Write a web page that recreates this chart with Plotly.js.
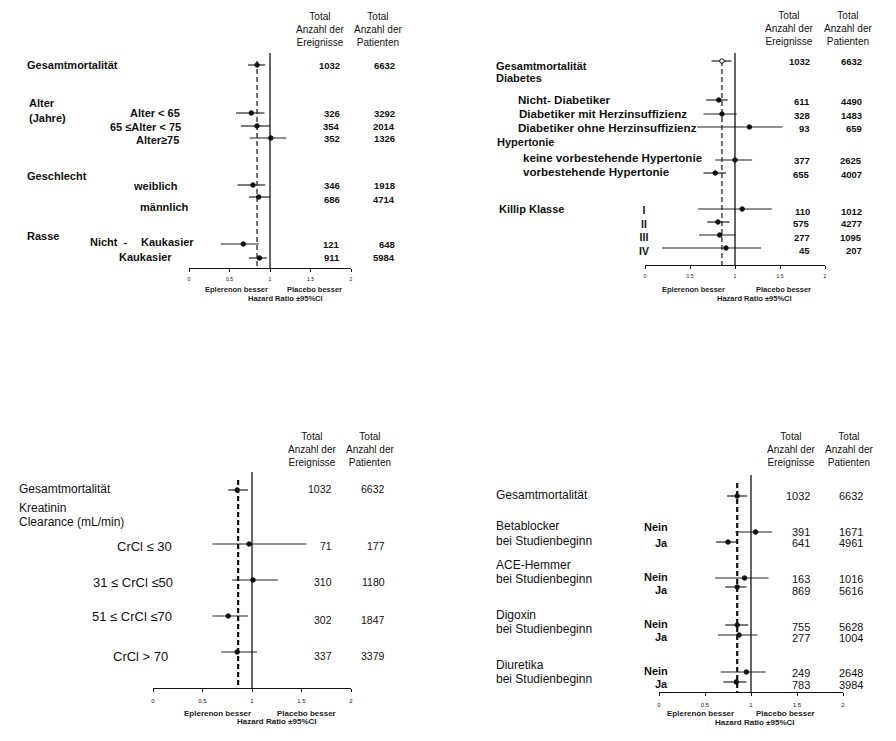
<!DOCTYPE html>
<html>
<head>
<meta charset="utf-8">
<script src="https://cdn.plot.ly/plotly-3.0.1.min.js"></script>
<style>html,body{margin:0;padding:0;background:#fff;}#chart{width:896px;height:741px;}</style>
</head>
<body>
<div id="chart"></div>
<script>
// ---------------- DATA ----------------
// Panel 1: Alter, Geschlecht, Rasse
const p1HR       = [0.84, 0.77, 0.84, 1.01, 0.79, 0.86, 0.67, 0.87];
const p1Lo       = [0.73, 0.58, 0.64, 0.75, 0.60, 0.74, 0.39, 0.74];
const p1Hi       = [0.94, 0.93, 1.00, 1.20, 0.94, 1.00, 0.86, 0.96];
const p1Events   = [1032, 326, 354, 352, 346, 686, 121, 911];
const p1Patients = [6632, 3292, 2014, 1326, 1918, 4714, 648, 5984];

// Panel 2: Diabetes, Hypertonie, Killip Klasse
const p2HR       = [0.855, 0.82, 0.855, 1.16, 1.00, 0.78, 1.08, 0.81, 0.83, 0.90];
const p2Lo       = [0.74, 0.68, 0.65, 0.58, 0.78, 0.65, 0.59, 0.69, 0.60, 0.19];
const p2Hi       = [0.96, 0.92, 1.02, 1.53, 1.19, 0.90, 1.41, 0.94, 1.01, 1.29];
const p2Events   = [1032, 611, 328, 93, 377, 655, 110, 575, 277, 45];
const p2Patients = [6632, 4490, 1483, 659, 2625, 4007, 1012, 4277, 1095, 207];
const killipClasses = ['I', 'II', 'III', 'IV'];

// Panel 3: Kreatinin Clearance
const p3HR       = [0.85, 0.97, 1.01, 0.76, 0.85];
const p3Lo       = [0.76, 0.60, 0.80, 0.60, 0.69];
const p3Hi       = [0.96, 1.55, 1.26, 0.96, 1.05];
const p3Events   = [1032, 71, 310, 302, 337];
const p3Patients = [6632, 177, 1180, 1847, 3379];

// Panel 4: Begleitmedikation bei Studienbeginn
const p4HR       = [0.85, 1.05, 0.75, 0.93, 0.85, 0.85, 0.87, 0.95, 0.84];
const p4Lo       = [0.74, 0.83, 0.62, 0.61, 0.72, 0.72, 0.64, 0.67, 0.70];
const p4Hi       = [0.96, 1.23, 0.85, 1.19, 0.95, 0.97, 1.07, 1.16, 0.95];
const p4Events   = [1032, 391, 641, 163, 869, 755, 277, 249, 783];
const p4Patients = [6632, 1671, 4961, 1016, 5616, 5628, 1004, 2648, 3984];

const overallHR = [0.84, 0.855, 0.86, 0.85];
const tickVals = [0, 0.5, 1, 1.5, 2];
const tickText = ['0', '0.5', '1', '1.5', '2'];
const headEvents = 'Total<br>Anzahl der<br>Ereignisse';
const headPatients = 'Total<br>Anzahl der<br>Patienten';
const capLeft = 'Eplerenon besser', capRight = 'Placebo besser', capAxis = 'Hazard Ratio ±95%CI';

// ---------------- LAYOUT (pixel geometry) ----------------
const W = 896, H = 741;
const FONT = 'Liberation Sans, Arial, sans-serif';
const panels = [
  { x0:189, x2:351, top:53, bottom:268, rows:[65,113,126,138,185,197,244,258],
    numY:[65,113,126,138,186,199,244,258], evX:342, paX:397, numSize:9.5, numBold:true,
    headX:[320,378], headY:29, capY:290, capAxisY:298, capX:[236,314,285], capSize:7.5,
    tickSize:5, dashW:1.2, hr:p1HR, lo:p1Lo, hi:p1Hi, ev:p1Events, pa:p1Patients },
  { x0:645, x2:825, top:53, bottom:265, rows:[61,100,114,127,160,173,209,222,235,248],
    numY:[61,101,115,129,160,174,211,224,237,251], evX:812, paX:864, numSize:9.5, numBold:true,
    headX:[789,848], headY:28, capY:290, capAxisY:298, capX:[693,783,754], capSize:7.5,
    tickSize:5, dashW:1.2, hr:p2HR, lo:p2Lo, hi:p2Hi, ev:p2Events, pa:p2Patients, openFirst:true },
  { x0:153, x2:351, top:472, bottom:688, rows:[490,544,580,616,652],
    numY:[489,546,582,620,656], evX:334, paX:387, numSize:10.5, numBold:false,
    headX:[312,370], headY:450, capY:713, capAxisY:721, capX:[217,306,277], capSize:8,
    tickSize:6, dashW:2.2, hr:p3HR, lo:p3Lo, hi:p3Hi, ev:p3Events, pa:p3Patients },
  { x0:659, x2:843, top:475, bottom:692, rows:[496,532,542,578,587,625,635,672,682],
    numY:[496,532,543,579,591,627,638,673,685], evX:812, paX:865, numSize:11, numBold:false,
    headX:[791,849], headY:450, capY:713, capAxisY:722, capX:[700,785,755], capSize:8,
    tickSize:6, dashW:2.2, hr:p4HR, lo:p4Lo, hi:p4Hi, ev:p4Events, pa:p4Patients }
];

// Row labels: [text, x, y, anchor, size, bold]
const labels = [
  // panel 1
  ['Gesamtmortalität', 25, 65, 'left', 11, true],
  ['Alter', 27, 103, 'left', 11, true],
  ['(Jahre)', 27, 118, 'left', 11, true],
  ['Alter < 65', 182, 113, 'right', 11, true],
  ['65 ≤Alter < 75', 183, 127, 'right', 11, true],
  ['Alter≥75', 181, 140, 'right', 11, true],
  ['Geschlecht', 25, 176, 'left', 11, true],
  ['weiblich', 180, 186, 'right', 11, true],
  ['männlich', 191, 207, 'right', 11, true],
  ['Rasse', 25, 236, 'left', 11, true],
  ['Nicht  -', 88, 242, 'left', 11, true],
  ['Kaukasier', 196, 242, 'right', 11, true],
  ['Kaukasier', 174, 257, 'right', 11, true],
  // panel 2
  ['Gesamtmortalität', 494, 66, 'left', 11, true],
  ['Diabetes', 494, 78, 'left', 11, true],
  ['Nicht- Diabetiker', 516, 99, 'left', 11.6, true],
  ['Diabetiker mit Herzinsuffizienz', 517, 113, 'left', 11.6, true],
  ['Diabetiker ohne Herzinsuffizienz', 516, 128, 'left', 11.6, true],
  ['Hypertonie', 495, 142, 'left', 11, true],
  ['keine vorbestehende Hypertonie', 521, 157, 'left', 11.6, true],
  ['vorbestehende Hypertonie', 521, 172, 'left', 11.6, true],
  ['Killip Klasse', 497, 209, 'left', 11, true],
  [killipClasses.join('<br>'), 644, 231, 'center', 10.5, true],
  // panel 3
  ['Gesamtmortalität', 17, 489, 'left', 12, false],
  ['Kreatinin', 17, 508, 'left', 12, false],
  ['Clearance (mL/min)', 17, 522, 'left', 12, false],
  ['CrCl ≤ 30', 174, 546, 'right', 13, false],
  ['31 ≤ CrCl ≤50', 175, 582, 'right', 13, false],
  ['51 ≤ CrCl ≤70', 174, 616, 'right', 13, false],
  ['CrCl > 70', 170, 656, 'right', 13, false],
  // panel 4
  ['Gesamtmortalität', 494, 495, 'left', 12, false],
  ['Betablocker', 494, 526, 'left', 12, false],
  ['bei Studienbeginn', 494, 541, 'left', 12, false],
  ['Nein', 670, 527, 'right', 11, true],
  ['Ja', 670, 543, 'right', 11, true],
  ['ACE-Hemmer', 494, 565, 'left', 12, false],
  ['bei Studienbeginn', 494, 579, 'left', 12, false],
  ['Nein', 670, 577, 'right', 11, true],
  ['Ja', 670, 590, 'right', 11, true],
  ['Digoxin', 494, 615, 'left', 12, false],
  ['bei Studienbeginn', 494, 629, 'left', 12, false],
  ['Nein', 670, 624, 'right', 11, true],
  ['Ja', 670, 637, 'right', 11, true],
  ['Diuretika', 494, 665, 'left', 12, false],
  ['bei Studienbeginn', 494, 679, 'left', 12, false],
  ['Nein', 670, 671, 'right', 11, true],
  ['Ja', 670, 684, 'right', 11, true]
];

// ---------------- BUILD ----------------
const px = x => x / W;
const py = y => 1 - y / H;
const b = (t, bold) => bold ? '<b>' + t + '</b>' : t;
const traces = [], shapes = [], annotations = [];
const layout = {
  width: W, height: H, margin: {l:0, r:0, t:0, b:0},
  paper_bgcolor: '#fff', plot_bgcolor: 'rgba(0,0,0,0)',
  showlegend: false, font: {family: FONT, color: '#111'}
};

panels.forEach((p, i) => {
  const n = i === 0 ? '' : String(i + 1);
  const xa = 'x' + n, ya = 'y' + n;
  layout['xaxis' + n] = {
    domain: [px(p.x0), px(p.x2)], range: [0, 2], anchor: ya,
    showline: true, linecolor: '#111', linewidth: 1.4, mirror: false,
    ticks: 'outside', ticklen: 3, tickwidth: 1, tickcolor: '#111',
    tickvals: tickVals, ticktext: tickText, ticklabelstandoff: 3,
    tickfont: {family: FONT, size: p.tickSize, color: '#111'},
    showgrid: false, zeroline: false, fixedrange: true
  };
  layout['yaxis' + n] = {
    domain: [py(p.bottom), py(p.top)], range: [p.bottom, p.top], anchor: xa,
    visible: false, showgrid: false, zeroline: false, fixedrange: true
  };
  // reference line at HR = 1
  shapes.push({type:'line', xref: xa, yref: ya, x0: 1, x1: 1, y0: p.top, y1: p.bottom,
               line: {color: '#111', width: 1.3}});
  // overall HR dashed line
  traces.push({type:'scatter', mode:'lines', xaxis: xa, yaxis: ya,
    x: [overallHR[i], overallHR[i]], y: [p.top + 8, p.bottom],
    line: {color: '#111', width: p.dashW, dash: '5px,3px'}, hoverinfo: 'skip'});
  // hazard ratios with CI
  traces.push({type:'scatter', mode:'markers', xaxis: xa, yaxis: ya,
    x: p.hr, y: p.rows,
    marker: {size: 4.5, color: p.hr.map((v, k) => (p.openFirst && k === 0) ? '#fff' : '#111'),
             line: {color: '#111', width: 1}},
    error_x: {type: 'data', symmetric: false,
              array: p.hi.map((v, k) => v - p.hr[k]),
              arrayminus: p.lo.map((v, k) => p.hr[k] - v),
              width: 0, thickness: 1.2, color: '#222'},
    cliponaxis: false, hoverinfo: 'x'});
  // counts
  p.ev.forEach((v, k) => {
    annotations.push({xref:'paper', yref:'paper', x: px(p.evX), y: py(p.numY[k]), xanchor:'right', yanchor:'middle',
      text: b(String(v), p.numBold), showarrow: false, font: {family: FONT, size: p.numSize, color: '#111'}});
    annotations.push({xref:'paper', yref:'paper', x: px(p.paX), y: py(p.numY[k]), xanchor:'right', yanchor:'middle',
      text: b(String(p.pa[k]), p.numBold), showarrow: false, font: {family: FONT, size: p.numSize, color: '#111'}});
  });
  // column headers
  [headEvents, headPatients].forEach((t, k) => {
    annotations.push({xref:'paper', yref:'paper', x: px(p.headX[k]), y: py(p.headY), xanchor:'center', yanchor:'middle',
      text: t, showarrow: false, align: 'center', font: {family: FONT, size: 10, color: '#111'}});
  });
  // axis captions
  [[capLeft, p.capY], [capRight, p.capY], [capAxis, p.capAxisY]].forEach((c, k) => {
    annotations.push({xref:'paper', yref:'paper', x: px(p.capX[k]), y: py(c[1]), xanchor:'center', yanchor:'middle',
      text: '<b>' + c[0] + '</b>', showarrow: false, font: {family: FONT, size: p.capSize, color: '#222'}});
  });
});

labels.forEach(l => {
  annotations.push({xref:'paper', yref:'paper', x: px(l[1]), y: py(l[2]), xanchor: l[3], yanchor: 'middle',
    text: b(l[0], l[5]), showarrow: false, align: 'center', font: {family: FONT, size: l[4], color: '#111'}});
});

layout.shapes = shapes;
layout.annotations = annotations;
Plotly.newPlot('chart', traces, layout, {displayModeBar: false, staticPlot: true});
</script>
</body>
</html>
